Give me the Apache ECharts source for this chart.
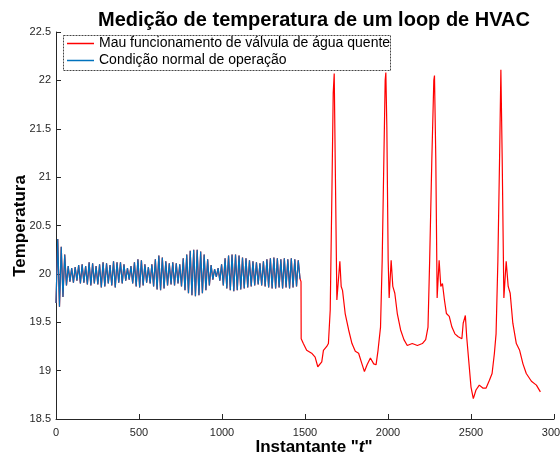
<!DOCTYPE html>
<html>
<head>
<meta charset="utf-8">
<script src="https://cdn.jsdelivr.net/npm/echarts@6/dist/echarts.min.js"></script>
<style>
  html, body { margin: 0; padding: 0; background: #fff; }
  #chart { width: 560px; height: 454px; }
</style>
</head>
<body>
<div id="chart"></div>
<script>
// valores
const titleText = 'Medição de temperatura de um loop de HVAC';
const faultName = 'Mau funcionamento de válvula de água quente';
const normalName = 'Condição normal de operação';
const yName = 'Temperatura';
const xTicks = [0, 500, 1000, 1500, 2000, 2500, 3000];
const yTicks = [18.5, 19, 19.5, 20, 20.5, 21, 21.5, 22, 22.5];

// operação normal: picos e vales, um a cada 10.5 instantes
const normalStep = 10.5;
const normalV = [
  19.70, 20.36, 19.66, 20.28, 19.76, 20.20, 19.88, 20.08, 19.92, 20.06,
  19.91, 20.07, 19.93, 20.09, 19.90, 20.10, 19.91, 20.08, 19.89, 20.12,
  19.88, 20.11, 19.90, 20.08, 19.89, 20.10, 19.86, 20.12, 19.87, 20.11,
  19.90, 20.09, 19.88, 20.13, 19.86, 20.12, 19.91, 20.12, 19.90, 20.10,
  19.93, 20.06, 19.94, 20.08, 19.90, 20.12, 19.87, 20.15, 19.86, 20.14,
  19.88, 20.10, 19.91, 20.07, 19.90, 20.10, 19.87, 20.15, 19.84, 20.19,
  19.83, 20.17, 19.85, 20.13, 19.88, 20.11, 19.89, 20.12, 19.88, 20.11,
  19.90, 20.10, 19.87, 20.16, 19.83, 20.20, 19.80, 20.24, 19.78, 20.25,
  19.77, 20.25, 19.78, 20.23, 19.80, 20.20, 19.83, 20.15, 19.88, 20.09,
  19.94, 20.05, 19.97, 20.06, 19.93, 20.10, 19.88, 20.16, 19.85, 20.19,
  19.83, 20.20, 19.82, 20.20, 19.83, 20.19, 19.84, 20.17, 19.85, 20.16,
  19.86, 20.14, 19.87, 20.13, 19.88, 20.12, 19.89, 20.11, 19.88, 20.13,
  19.87, 20.15, 19.86, 20.16, 19.85, 20.17, 19.85, 20.16, 19.86, 20.15,
  19.85, 20.16, 19.86, 20.15, 19.85, 20.16, 19.86, 20.15, 19.87, 20.14,
  19.95
];

// mau funcionamento, depois do instante ~1476
const faultT = [
  1476, 1477, 1490, 1510, 1540, 1561, 1577, 1601, 1611, 1631,
  1641, 1652, 1662, 1670, 1676, 1682, 1692, 1698, 1710, 1718,
  1726, 1742, 1763, 1783, 1803, 1823, 1843, 1858, 1874, 1894,
  1914, 1928, 1940, 1955, 1965, 1975, 1983, 1987, 1993, 2001,
  2007, 2019, 2029, 2041, 2056, 2076, 2096, 2116, 2146, 2177,
  2207, 2227, 2241, 2251, 2264, 2276, 2280, 2288, 2296, 2308,
  2318, 2328, 2340, 2352, 2369, 2385, 2403, 2423, 2445, 2453,
  2466, 2474, 2486, 2500, 2514, 2530, 2550, 2571, 2591, 2611,
  2627, 2641, 2651, 2662, 2672, 2680, 2688, 2698, 2712, 2724,
  2736, 2752, 2773, 2793, 2813, 2833, 2864, 2894, 2918
];
const faultV = [
  19.92, 19.33, 19.28, 19.21, 19.18, 19.14, 19.04, 19.09, 19.21, 19.25,
  19.28, 19.63, 20.83, 21.87, 22.07, 21.18, 19.73, 19.73, 20.13, 19.87,
  19.83, 19.59, 19.42, 19.28, 19.20, 19.18, 19.07, 18.99, 19.06, 19.13,
  19.07, 19.06, 19.21, 19.45, 20.14, 21.18, 22.00, 22.08, 21.52, 20.14,
  19.75, 20.14, 19.87, 19.80, 19.59, 19.42, 19.32, 19.26, 19.28, 19.26,
  19.28, 19.32, 19.45, 20.14, 21.18, 22.00, 22.05, 21.18, 19.75, 20.14,
  19.87, 19.90, 19.73, 19.59, 19.56, 19.45, 19.38, 19.35, 19.33, 19.49,
  19.57, 19.35, 19.11, 18.83, 18.71, 18.80, 18.85, 18.82, 18.82, 18.90,
  18.97, 19.18, 19.38, 20.14, 21.18, 22.11, 21.18, 19.75, 20.13, 19.87,
  19.80, 19.49, 19.28, 19.21, 19.07, 18.97, 18.89, 18.85, 18.78
];

const normalData = normalV.map((v, i) => [i * normalStep, v]);
const faultData = normalData.concat(faultT.map((t, i) => [t, faultV[i]]));

const font = 'Liberation Sans, Arial, sans-serif';
const axisColor = '#262626';
const nameFont = 'bold 17px ' + font;

const chart = echarts.init(document.getElementById('chart'));
chart.setOption({
    animation: false,
    backgroundColor: '#fff',
    title: {
        text: titleText,
        left: 309,
        top: 5,
        textAlign: 'center',
        textStyle: { fontFamily: font, fontSize: 20, fontWeight: 'bold', color: '#000' }
    },
    grid: { left: 56, right: 6, top: 32, bottom: 35, containLabel: false, outerBoundsMode: 'none' },
    graphic: [
        {
            type: 'rect',
            z: 3,
            shape: { x: 63.5, y: 35.5, width: 327, height: 35 },
            style: { fill: '#fff', stroke: '#444', lineWidth: 1, lineDash: [2, 1] }
        },
        {
            // nome do eixo x
            type: 'text',
            x: 314,
            y: 447,
            style: {
                text: '{a|Instantante "}{b|t}{a|"}',
                align: 'center',
                verticalAlign: 'middle',
                rich: {
                    a: { font: nameFont, fill: '#000' },
                    b: { font: 'italic ' + nameFont, fill: '#000' }
                }
            }
        },
        {
            // nome do eixo y
            type: 'text',
            x: 20,
            y: 226,
            rotation: Math.PI / 2,
            style: {
                text: yName,
                font: nameFont,
                fill: '#000',
                align: 'center',
                verticalAlign: 'middle'
            }
        }
    ],
    legend: {
        data: [faultName, normalName],
        orient: 'vertical',
        left: 67,
        top: 35,
        padding: 0,
        itemGap: 0,
        itemWidth: 27,
        itemHeight: 1.5,
        icon: 'rect',
        z: 5,
        textStyle: { fontFamily: font, fontSize: 14, lineHeight: 17, color: '#000' }
    },
    xAxis: {
        type: 'value',
        min: xTicks[0],
        max: xTicks[xTicks.length - 1],
        interval: 500,
        splitLine: { show: false },
        axisLine: { onZero: false, lineStyle: { color: axisColor, width: 1 } },
        axisTick: { inside: true, length: 5, lineStyle: { color: axisColor } },
        axisLabel: {
            fontFamily: font, fontSize: 11, color: axisColor, margin: 8,
            formatter: (v) => String(v)
        }
    },
    yAxis: {
        type: 'value',
        min: yTicks[0],
        max: yTicks[yTicks.length - 1],
        interval: 0.5,
        splitLine: { show: false },
        axisLine: { show: true, onZero: false, lineStyle: { color: axisColor, width: 1 } },
        axisTick: { show: true, inside: true, length: 5, lineStyle: { color: axisColor } },
        axisLabel: { fontFamily: font, fontSize: 11, color: axisColor, margin: 5 }
    },
    series: [
        {
            name: faultName,
            type: 'line',
            data: faultData,
            showSymbol: false,
            symbol: 'none',
            color: '#ff0000',
            lineStyle: { color: '#ff0000', width: 1.2 }
        },
        {
            name: normalName,
            type: 'line',
            data: normalData,
            showSymbol: false,
            symbol: 'none',
            color: '#0072bd',
            lineStyle: { color: '#0072bd', width: 1.2 }
        }
    ]
});
</script>
</body>
</html>
